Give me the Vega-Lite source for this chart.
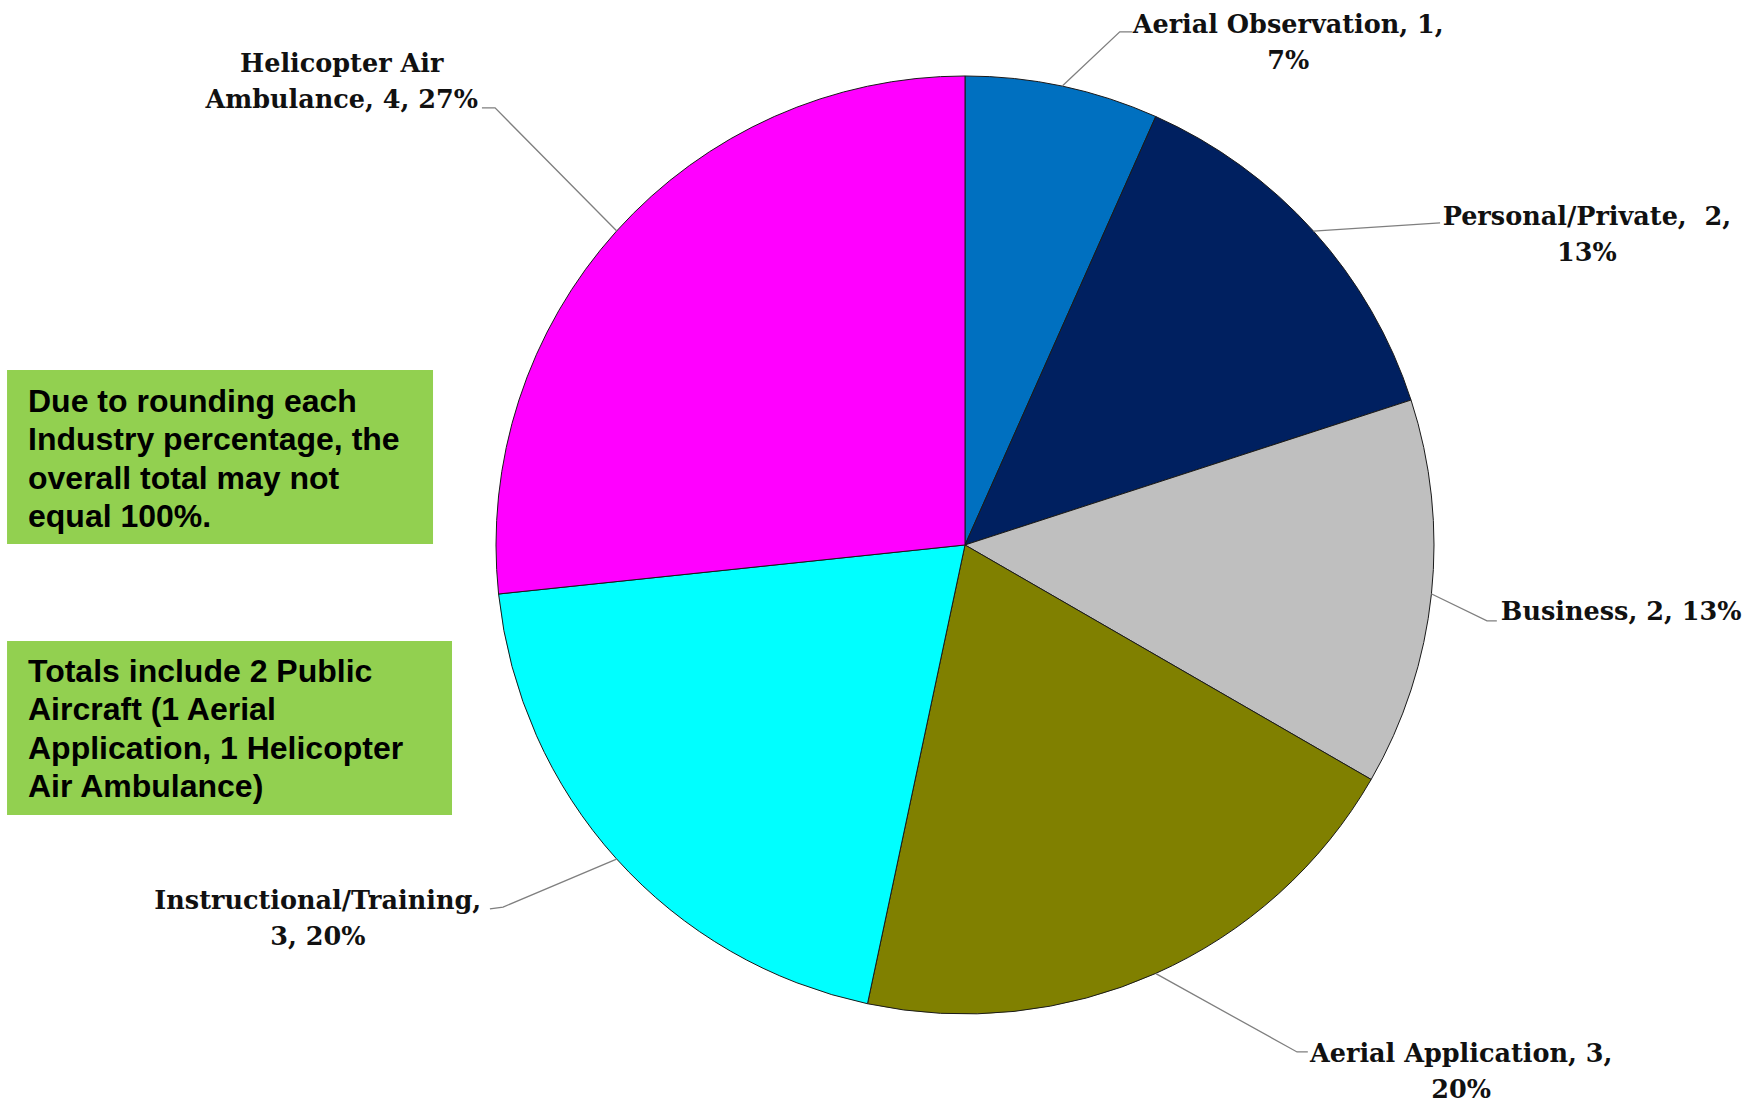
{
  "$schema": "https://vega.github.io/schema/vega-lite/v6.json",
  "width": 1750,
  "height": 1103,
  "autosize": {"type": "none"},
  "padding": 0,
  "background": "#ffffff",
  "config": {"view": {"stroke": null}},
  "datasets": {
    "slices": [
      {"industry": "Aerial Observation", "count": 1, "ord": 1},
      {"industry": "Personal/Private", "count": 2, "ord": 2},
      {"industry": "Business", "count": 2, "ord": 3},
      {"industry": "Aerial Application", "count": 3, "ord": 4},
      {"industry": "Instructional/Training", "count": 3, "ord": 5},
      {"industry": "Helicopter Air Ambulance", "count": 4, "ord": 6}
    ],
    "labels": [
      {"text": "Aerial Observation, 1,\n7%", "u": 0.689, "v": 1.092},
      {"text": "Personal/Private,\u00a0 2,\n13%", "u": 1.326, "v": 0.682},
      {"text": "Business, 2, 13%", "u": 1.399, "v": -0.160},
      {"text": "Aerial Application, 3,\n20%", "u": 1.058, "v": -1.103},
      {"text": "Instructional/Training,\n3, 20%", "u": -1.380, "v": -0.776},
      {"text": "Helicopter Air\nAmbulance, 4, 27%", "u": -1.329, "v": 1.009}
    ],
    "leaders": [
      {"g": "AO", "o": 1, "u": 0.208, "v": 0.979},
      {"g": "AO", "o": 2, "u": 0.330, "v": 1.094},
      {"g": "AO", "o": 3, "u": 0.356, "v": 1.094},
      {"g": "PP", "o": 1, "u": 0.743, "v": 0.669},
      {"g": "PP", "o": 2, "u": 1.013, "v": 0.687},
      {"g": "BU", "o": 1, "u": 0.994, "v": -0.104},
      {"g": "BU", "o": 2, "u": 1.113, "v": -0.162},
      {"g": "BU", "o": 3, "u": 1.134, "v": -0.162},
      {"g": "AA", "o": 1, "u": 0.407, "v": -0.914},
      {"g": "AA", "o": 2, "u": 0.708, "v": -1.081},
      {"g": "AA", "o": 3, "u": 0.731, "v": -1.081},
      {"g": "IT", "o": 1, "u": -0.743, "v": -0.670},
      {"g": "IT", "o": 2, "u": -0.985, "v": -0.772},
      {"g": "IT", "o": 3, "u": -1.013, "v": -0.776},
      {"g": "HA", "o": 1, "u": -0.743, "v": 0.670},
      {"g": "HA", "o": 2, "u": -1.002, "v": 0.932},
      {"g": "HA", "o": 3, "u": -1.030, "v": 0.932}
    ],
    "notes": [
      {"text": "Due to rounding each\nIndustry percentage, the\noverall total may not\nequal 100%.", "u1": -2.0426, "u2": -1.1343, "v1": 0.3731, "v2": 0.0021, "tu": -1.9979, "tv": 0.2836},
      {"text": "Totals include 2 Public\nAircraft (1 Aerial\nApplication, 1 Helicopter\nAir Ambulance)", "u1": -2.0426, "u2": -1.0938, "v1": -0.2047, "v2": -0.5757, "tu": -1.9979, "tv": -0.2921}
    ]
  },
  "layer": [
    {
      "data": {"name": "slices"},
      "mark": {"type": "arc", "outerRadius": 469, "stroke": "#1a1a1a", "strokeWidth": 1},
      "encoding": {
        "x": {"datum": 0, "type": "quantitative", "scale": {"domain": [-2.0576, 1.6738], "nice": false, "zero": false}, "axis": null},
        "y": {"datum": 0, "type": "quantitative", "scale": {"domain": [-1.1898, 1.1620], "nice": false, "zero": false}, "axis": null},
        "theta": {"field": "count", "type": "quantitative", "stack": true},
        "order": {"field": "ord", "type": "quantitative"},
        "color": {
          "field": "industry",
          "type": "nominal",
          "scale": {
            "domain": ["Aerial Observation", "Personal/Private", "Business", "Aerial Application", "Instructional/Training", "Helicopter Air Ambulance"],
            "range": ["#0070C0", "#002060", "#BFBFBF", "#808000", "#00FFFF", "#FF00FF"]
          },
          "legend": null
        }
      }
    },
    {
      "data": {"name": "leaders"},
      "mark": {"type": "line", "stroke": "#7f7f7f", "strokeWidth": 1.3},
      "encoding": {
        "x": {"field": "u", "type": "quantitative"},
        "y": {"field": "v", "type": "quantitative"},
        "detail": {"field": "g", "type": "nominal"},
        "order": {"field": "o", "type": "quantitative"}
      }
    },
    {
      "data": {"name": "labels"},
      "mark": {"type": "text", "align": "center", "baseline": "alphabetic", "lineBreak": "\n", "lineHeight": 36, "font": "DejaVu Serif", "fontWeight": "bold", "fontSize": 25.5, "fill": "#111111"},
      "encoding": {
        "x": {"field": "u", "type": "quantitative"},
        "y": {"field": "v", "type": "quantitative"},
        "text": {"field": "text", "type": "nominal"}
      }
    },
    {
      "data": {"name": "notes"},
      "mark": {"type": "rect", "fill": "#92D050"},
      "encoding": {
        "x": {"field": "u1", "type": "quantitative"},
        "x2": {"field": "u2"},
        "y": {"field": "v1", "type": "quantitative"},
        "y2": {"field": "v2"}
      }
    },
    {
      "data": {"name": "notes"},
      "mark": {"type": "text", "align": "left", "baseline": "alphabetic", "lineBreak": "\n", "lineHeight": 38.5, "font": "Liberation Sans", "fontWeight": "bold", "fontSize": 32, "fill": "#000000"},
      "encoding": {
        "x": {"field": "tu", "type": "quantitative"},
        "y": {"field": "tv", "type": "quantitative"},
        "text": {"field": "text", "type": "nominal"}
      }
    }
  ]
}
